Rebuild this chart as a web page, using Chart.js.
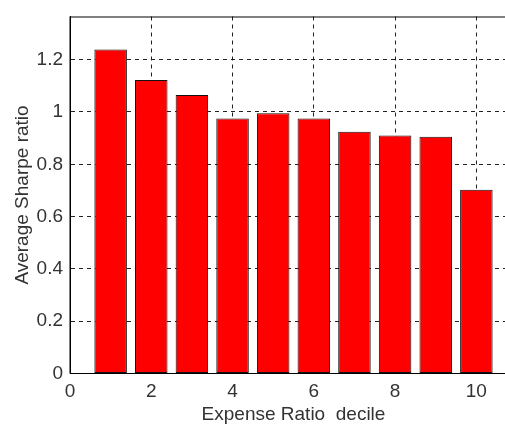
<!DOCTYPE html>
<html>
<head>
<meta charset="utf-8">
<script src="https://cdn.jsdelivr.net/npm/chart.js@4"></script>
<style>
  html, body { margin: 0; padding: 0; background: #fff; overflow: hidden; }
  #wrap { width: 560px; height: 424px; }
</style>
</head>
<body>
<div id="wrap"><canvas id="c" width="560" height="424"></canvas></div>
<script>
// Expense-ratio deciles and their average Sharpe ratios
const deciles = [1, 2, 3, 4, 5, 6, 7, 8, 9, 10];
const sharpe = [1.239, 1.122, 1.065, 0.975, 0.995, 0.975, 0.924, 0.910, 0.905, 0.703];
const xTicks = [0, 2, 4, 6, 8, 10];
const yTicks = [0, 0.2, 0.4, 0.6, 0.8, 1, 1.2];

const FONT = { family: '"Liberation Sans", Arial, sans-serif', size: 19, lineHeight: 1 };
const TEXT = '#333333';

// Axes frame (top edge of the box; the right edge lies past the window)
const frame = {
  id: 'frame',
  afterDatasetsDraw(chart) {
    const { ctx, chartArea: a } = chart;
    ctx.save();
    ctx.strokeStyle = '#000';
    ctx.lineWidth = 1;
    ctx.beginPath();
    ctx.moveTo(a.left, a.top + 0.5);
    ctx.lineTo(a.right, a.top + 0.5);
    ctx.moveTo(a.right - 0.5, a.top);
    ctx.lineTo(a.right - 0.5, a.bottom);
    ctx.moveTo(a.left, a.bottom);
    ctx.lineTo(a.right, a.bottom);
    ctx.moveTo(a.left, a.top);
    ctx.lineTo(a.left, a.bottom);
    ctx.stroke();
    ctx.restore();
  }
};

new Chart(document.getElementById('c'), {
  type: 'bar',
  data: {
    datasets: [{
      data: deciles.map((d, i) => ({ x: d, y: sharpe[i] })),
      backgroundColor: '#ff0000',
      borderColor: '#111111',
      borderWidth: 1,
      borderSkipped: false,
      categoryPercentage: 1,
      barPercentage: 0.8
    }]
  },
  options: {
    responsive: false,
    animation: false,
    layout: { padding: { left: 0, top: 7, right: 43, bottom: 0 } },
    plugins: { legend: { display: false }, tooltip: { enabled: false } },
    scales: {
      x: {
        type: 'linear',
        min: 0,
        max: 11,
        offset: false,
        afterBuildTicks(s) { s.ticks = xTicks.map(v => ({ value: v })); },
        afterFit(s) { s.height = 50.5; },
        grid: { color: '#222', lineWidth: 1, drawTicks: false, offset: false },
        border: { display: true, color: '#000', width: 1, dash: [4, 4] },
        ticks: { color: TEXT, font: FONT, padding: 9, maxRotation: 0 },
        title: { display: true, text: 'Expense Ratio  decile', color: TEXT, font: FONT,
                 padding: { top: 0, bottom: 0 } }
      },
      y: {
        min: 0,
        max: 1.365,
        afterBuildTicks(s) { s.ticks = yTicks.map(v => ({ value: v })); },
        afterFit(s) { s.width = 70; },
        grid: { color: '#222', lineWidth: 1, drawTicks: false },
        border: { display: true, color: '#000', width: 1, dash: [4, 4] },
        ticks: { color: TEXT, font: FONT, padding: 7,
                 callback: v => String(Math.round(v * 10) / 10) },
        title: { display: true, text: 'Average Sharpe ratio', color: TEXT, font: FONT,
                 padding: { top: 13.5, bottom: 0 } }
      }
    }
  },
  plugins: [frame]
});
</script>
</body>
</html>
